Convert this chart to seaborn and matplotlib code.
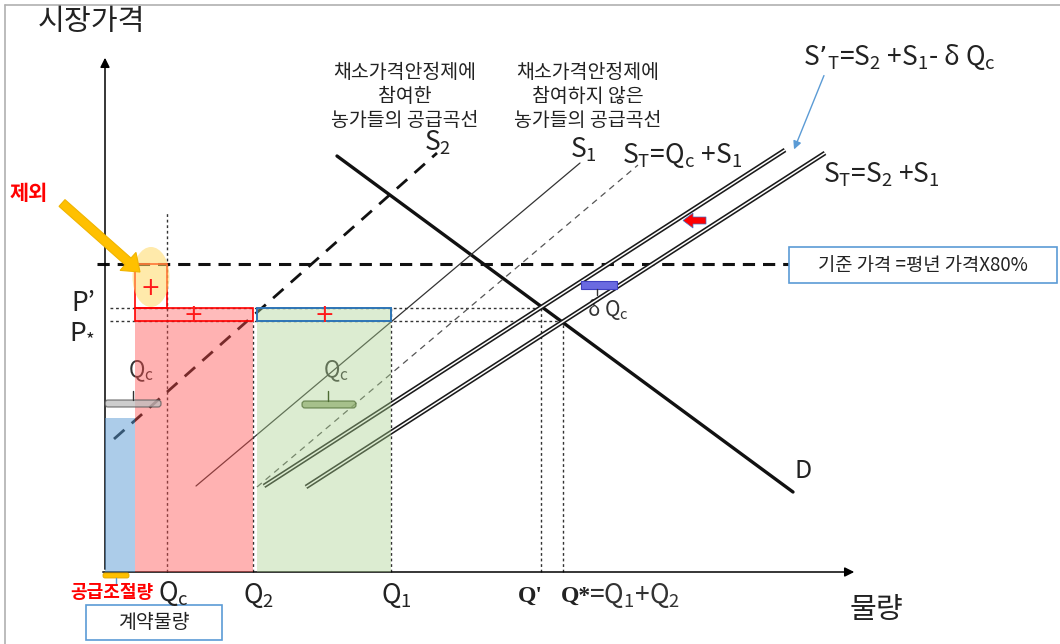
import numpy as np
import pandas as pd
import matplotlib
matplotlib.use("Agg")
import matplotlib.pyplot as plt
from matplotlib.patches import Rectangle, Ellipse, FancyArrow, FancyBboxPatch
import seaborn as sns

# ---- quantities (horizontal axis) ----
Q_ADJ = 30          # 공급조절량
Q_C = 62            # 계약물량 Qc
Q_2 = 148
Q_2_NON = 152       # start of the non-participating block
Q_1 = 286
Q_PRIME = 436
Q_STAR = 458

# ---- prices (vertical axis) ----
P_STAR = 251
P_PRIME = 264
P_BASE = 308        # 기준 가격 = 평년 가격 x 80%
P_CONTRACT = 154

# ---- curve end points: quantity, price ----
S2_Q, S2_P = [9, 332], [133, 419]
D_Q, D_P = [232, 688], [416, 80]
S1_Q, S1_P = [91, 475], [86, 409]
STQC_Q, STQC_P = [152, 533], [85, 407]
STP_Q, STP_P = [159, 680], [86, 422]
ST_Q, ST_P = [201, 720], [85, 419]

sns.set_theme(style="white")
plt.rcParams['font.family'] = ['Noto Sans CJK KR', 'DejaVu Sans']
plt.rcParams['mathtext.default'] = 'regular'

INK = '#222222'
fig = plt.figure(figsize=(10.6, 6.44), dpi=100)
ax = fig.add_axes([0, 0, 1, 1])
ax.set_xlim(-105, 955)
ax.set_ylim(-72, 572)
ax.axis('off')

# frame
ax.plot([-100, -100], [-72, 567], color='#b0b0b0', lw=1.2, clip_on=False)
ax.plot([-100, 955], [567, 567], color='#b0b0b0', lw=1.2, clip_on=False)


def line(qs, ps, **kw):
    df = pd.DataFrame({'q': qs, 'p': ps})
    sns.lineplot(data=df, x='q', y='p', ax=ax, estimator=None, sort=False,
                 legend=False, **kw)


def double_line(qs, ps):
    line(qs, ps, color='#1a1a1a', lw=3.4, solid_capstyle='butt', zorder=4)
    line(qs, ps, color='white', lw=1.1, solid_capstyle='butt', zorder=4)


# axes with arrows
ax.annotate('', xy=(0, 517), xytext=(0, 0),
            arrowprops=dict(arrowstyle='-|>', color='black', lw=1.1, mutation_scale=14))
ax.annotate('', xy=(752, 0), xytext=(-5, 0),
            arrowprops=dict(arrowstyle='-|>', color='black', lw=1.1, mutation_scale=14))
ax.text(-14, 550, '시장가격', fontsize=21, color=INK, ha='center', va='center')
ax.text(771, -38, '물량', fontsize=21, color=INK, ha='center', va='center')

# reference lines
dot = dict(color='#333333', lw=1.0, linestyle=(0, (2, 2)), zorder=2)
line([Q_C, Q_C], [0, 360], **dot)
line([Q_2, Q_2], [0, P_STAR], **dot)
line([Q_1, Q_1], [0, P_PRIME], **dot)
line([Q_PRIME, Q_PRIME], [0, P_PRIME], **dot)
line([Q_STAR, Q_STAR], [0, P_STAR], **dot)
line([5, Q_PRIME], [P_PRIME, P_PRIME], **dot)
line([5, Q_STAR], [P_STAR, P_STAR], **dot)
line([-8, 685], [P_BASE, P_BASE], color='#111111', lw=2.2,
     linestyle=(0, (4, 2.6)), zorder=2)

# supply and demand curves
line(S2_Q, S2_P, color='#111111', lw=2.0, linestyle=(0, (5, 3.5)), zorder=2)
line(D_Q, D_P, color='#111111', lw=2.4, zorder=2)
line(S1_Q, S1_P, color='#333333', lw=0.9, zorder=2)
line(STQC_Q, STQC_P, color='#555555', lw=0.9, linestyle=(0, (5, 4)), zorder=2)
double_line(STP_Q, STP_P)
double_line(ST_Q, ST_P)

# shaded blocks over the curves
ax.add_patch(Rectangle((0, 0), Q_ADJ, P_CONTRACT, facecolor='#5b9bd5', alpha=0.5,
                       edgecolor='none', zorder=5))
ax.add_patch(Rectangle((Q_ADJ, 0), Q_2 - Q_ADJ, P_STAR, facecolor='#ff4d4d', alpha=0.43,
                       edgecolor='none', zorder=5))
ax.add_patch(Rectangle((Q_ADJ, P_STAR), Q_2 - Q_ADJ, P_PRIME - P_STAR,
                       facecolor=(1, 0.3, 0.3, 0.38), edgecolor='#ff0000', lw=1.2, zorder=5))
ax.add_patch(Rectangle((Q_ADJ, P_PRIME), Q_C - Q_ADJ, P_BASE - P_PRIME,
                       facecolor='none', edgecolor='#ff0000', lw=1.2, zorder=5))
ax.add_patch(Rectangle((Q_2_NON, 0), Q_1 - Q_2_NON, P_STAR, facecolor='#a9d18e', alpha=0.4,
                       edgecolor='none', zorder=5))
ax.add_patch(Rectangle((Q_2_NON, P_STAR), Q_1 - Q_2_NON, P_PRIME - P_STAR,
                       facecolor=(0.66, 0.82, 0.56, 0.4), edgecolor='#2e75b6', lw=1.4, zorder=5))

# excluded block highlight and arrow
ax.add_patch(Ellipse((46, 295), 37, 60, facecolor='#ffd966', alpha=0.55,
                     edgecolor='none', zorder=6))
ax.add_patch(FancyArrow(-43, 369, 78, -69, width=9, head_width=24, head_length=16,
                        length_includes_head=True, facecolor='#ffc000',
                        edgecolor='#f0b400', lw=0.8, zorder=7))
ax.text(-76, 379, '제외', fontsize=15, color='#ff0000', fontweight='bold',
        ha='center', va='center')

for qx, py in [(45, 284), (88, 257), (219, 257)]:
    ax.text(qx, py, '+', fontsize=17, color='#ff1a1a', ha='center', va='center',
            family=['DejaVu Sans'], zorder=8)

# Qc braces
ax.add_patch(FancyBboxPatch((0, 165), 56, 7, boxstyle='round,pad=0,rounding_size=3',
                            facecolor='#bdbdbd', alpha=0.75, edgecolor='#555555',
                            lw=0.9, zorder=6))
line([28, 28], [172, 181], color='#333333', lw=1.0, zorder=6)
ax.text(36, 201, 'Q$_{c}$', fontsize=16, color='#333333', ha='center', va='center')

ax.add_patch(FancyBboxPatch((197, 164), 54, 7, boxstyle='round,pad=0,rounding_size=3',
                            facecolor='#8fae6e', alpha=0.7, edgecolor='#4d6b33',
                            lw=0.9, zorder=6))
line([223, 223], [171, 181], color='#4d6b33', lw=1.0, zorder=6)
ax.text(231, 201, 'Q$_{c}$', fontsize=16, color='#333333', ha='center', va='center')

# supply adjustment marker on the axis
ax.add_patch(FancyBboxPatch((-2, -6), 26, 5, boxstyle='round,pad=0,rounding_size=2',
                            facecolor='#ffc000', edgecolor='#e0a800', lw=0.6, zorder=7))
line([11, 11], [-6, -12], color='#5b9bd5', lw=1.0, zorder=7)
ax.text(7, -21, '공급조절량', fontsize=13, color='#ff0000', fontweight='bold',
        ha='center', va='center', zorder=8)

# contract quantity box
ax.add_patch(Rectangle((-19, -68), 136, 35, facecolor='white', edgecolor='#5b9bd5',
                       lw=1.2, zorder=6))
ax.text(49, -50, '계약물량', fontsize=14, color=INK, ha='center', va='center', zorder=7)

# reference price box
ax.add_patch(Rectangle((684, 289), 268, 36, facecolor='white', edgecolor='#5b9bd5',
                       lw=1.2, zorder=6))
ax.text(818, 307, '기준 가격 =평년 가격X80%', fontsize=13.5, color=INK,
        ha='center', va='center', zorder=7)

# delta Qc marker and shift arrow
ax.add_patch(Rectangle((476, 283), 36, 8, facecolor='#6a6ae0', edgecolor='#4040c0',
                       lw=0.8, zorder=6))
line([492, 492], [283, 277], color='#333333', lw=1.0, zorder=6)
ax.text(482, 263, 'δ Q$_{c}$', fontsize=15, color='#333333', ha='left', va='center')
ax.add_patch(FancyArrow(601, 351.5, -23, 0, width=7, head_width=15, head_length=10,
                        length_includes_head=True, facecolor='#ff0000',
                        edgecolor='#4472c4', lw=0.5, zorder=7))
ax.annotate('', xy=(688, 420), xytext=(720, 499),
            arrowprops=dict(arrowstyle='-|>', color='#5b9bd5', lw=1.0, mutation_scale=12))

# curve labels
ax.text(333, 429, 'S$_{2}$', fontsize=19, color=INK, ha='center', va='center')
ax.text(478, 422, 'S$_{1}$', fontsize=19, color=INK, ha='center', va='center')
ax.text(517, 417, 'S$_{T}$=Q$_{c}$ +S$_{1}$', fontsize=19, color=INK, ha='left', va='center')
ax.text(698, 515, 'S’$_{T}$=S$_{2}$ +S$_{1}$- δ Q$_{c}$', fontsize=19, color=INK,
        ha='left', va='center')
ax.text(718, 397, 'S$_{T}$=S$_{2}$ +S$_{1}$', fontsize=19, color=INK, ha='left', va='center')
ax.text(698, 101, 'D', fontsize=18, color=INK, ha='center', va='center')

for i, txt in enumerate(['채소가격안정제에', '참여한', '농가들의 공급곡선']):
    ax.text(300, 499 - 23.5 * i, txt, fontsize=14, color=INK, ha='center', va='center')
for i, txt in enumerate(['채소가격안정제에', '참여하지 않은', '농가들의 공급곡선']):
    ax.text(483, 499 - 23.5 * i, txt, fontsize=14, color=INK, ha='center', va='center')

# price labels
ax.text(-22, 269, 'P’', fontsize=19, color=INK, ha='center', va='center')
ax.text(-23, 242, 'P$_{*}$', fontsize=19, color=INK, ha='center', va='center')

# quantity labels
ax.text(68, -22, 'Q$_{c}$', fontsize=19, color=INK, ha='center', va='center', zorder=9)
ax.text(154, -23, 'Q$_{2}$', fontsize=19, color=INK, ha='center', va='center')
ax.text(291, -23, 'Q$_{1}$', fontsize=19, color=INK, ha='center', va='center')
ax.text(425, -24, "Q'", fontsize=17, color=INK, ha='center', va='center',
        family=['Liberation Serif'], fontweight='bold')
ax.text(456, -24, 'Q*', fontsize=17, color=INK, ha='left', va='center',
        family=['Liberation Serif'], fontweight='bold')
ax.text(484, -23, '=Q$_{1}$+Q$_{2}$', fontsize=19, color='#333333', ha='left', va='center')

fig.savefig('out.png', dpi=100)
